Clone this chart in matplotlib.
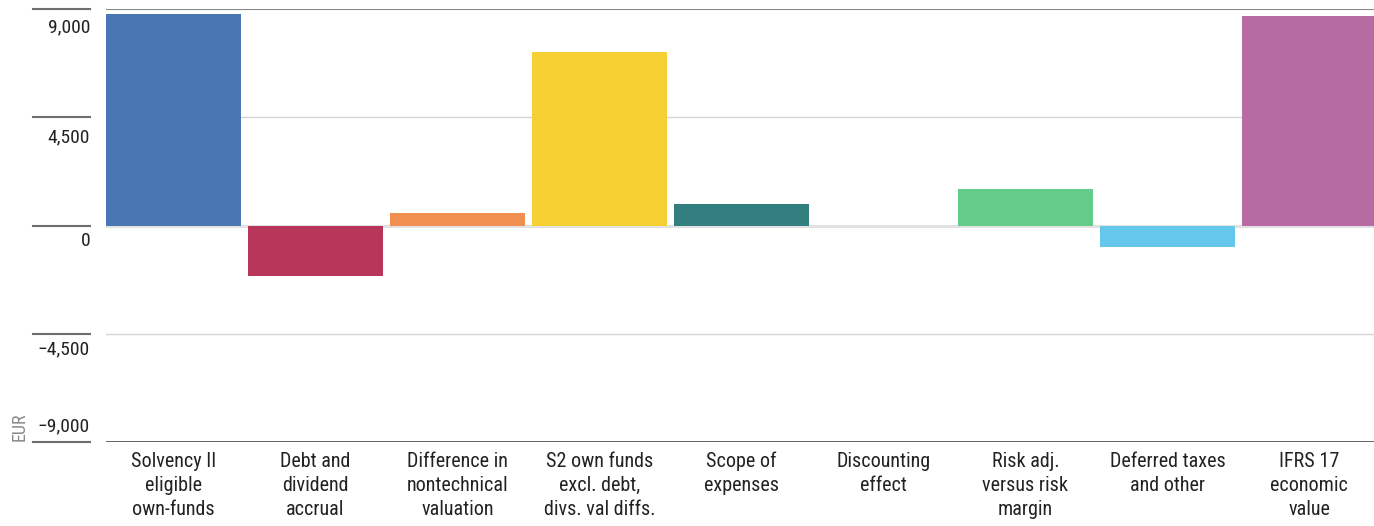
import matplotlib
matplotlib.use("Agg")
import matplotlib.pyplot as plt
import matplotlib.transforms as mtransforms
from matplotlib import font_manager

# Data (EUR)
categories = [
    "Solvency II\neligible\nown-funds",
    "Debt and\ndividend\naccrual",
    "Difference in\nnontechnical\nvaluation",
    "S2 own funds\nexcl. debt,\ndivs. val diffs.",
    "Scope of\nexpenses",
    "Discounting\neffect",
    "Risk adj.\nversus risk\nmargin",
    "Deferred taxes\nand other",
    "IFRS 17\neconomic\nvalue",
]
values = [8800, -2100, 500, 7200, 900, 0, 1500, -900, 8700]
colors = ["#4A77B4", "#B8365A", "#F08F4F", "#F6D033", "#337F80",
          "#8C8C8C", "#63CC8A", "#65C7EA", "#B66CA3"]
y_ticks = [-9000, -4500, 0, 4500, 9000]
y_ticklabels = ["\u22129,000", "\u22124,500", "0", "4,500", "9,000"]

installed = {f.name for f in font_manager.fontManager.ttflist}
family = [f for f in ["Liberation Sans Narrow", "Roboto Condensed", "Roboto", "DejaVu Sans"]
          if f in installed] or ["DejaVu Sans"]
plt.rcParams["font.family"] = family

W, H = 1374, 526
fig = plt.figure(figsize=(W / 100, H / 100), dpi=100)
left_px, right_px, top_px, bot_px = 106, 1374, 9, 442
ax = fig.add_axes([left_px / W, 1 - bot_px / H, (right_px - left_px) / W, (bot_px - top_px) / H])

x = list(range(len(categories)))
ax.bar(x, values, width=0.95, color=colors, zorder=3)
ax.set_xlim(-0.475, 8.455)
ax.set_ylim(-9000, 9000)

for s in ax.spines.values():
    s.set_visible(False)
ax.set_yticks([])
ax.set_xticks(x)
ax.set_xticklabels(categories, fontsize=14.5, color="#222222", linespacing=1.33)
ax.tick_params(axis="x", length=0, pad=7)

# gridlines inside the plot area
grid_style = {-9000: ("#555555", 1.3), -4500: ("#d4d4d4", 1.0), 0: ("#e2e2e2", 2.2),
              4500: ("#d4d4d4", 1.0), 9000: ("#888888", 1.5)}
for yv, (c, lw) in grid_style.items():
    ax.axhline(yv, color=c, lw=lw, zorder=2 if yv != 9000 else 4)

# tick segments and labels left of the plot area
trans = mtransforms.blended_transform_factory(ax.transAxes, ax.transData)
x0 = (33 - left_px) / (right_px - left_px)
x1 = (90 - left_px) / (right_px - left_px)
label_offsets_px = {-9000: 16, -4500: -16, 0: -16, 4500: -20, 9000: -18}
for yv, lab in zip(y_ticks, y_ticklabels):
    ax.plot([x0, x1], [yv, yv], transform=trans, color="#6e6e6e", lw=1.5, clip_on=False)
    off = mtransforms.offset_copy(trans, fig=fig, x=0, y=label_offsets_px[yv] * 0.72,
                                  units="points")
    ax.text(x1, yv, lab, transform=off, ha="right", va="center", fontsize=14, color="#222222")

fig.text(20 / W, 1 - 427 / H, "EUR", rotation=90, ha="center", va="center",
         fontsize=13, color="#8a8a8a")

fig.savefig("out.png", dpi=100, facecolor="white")
